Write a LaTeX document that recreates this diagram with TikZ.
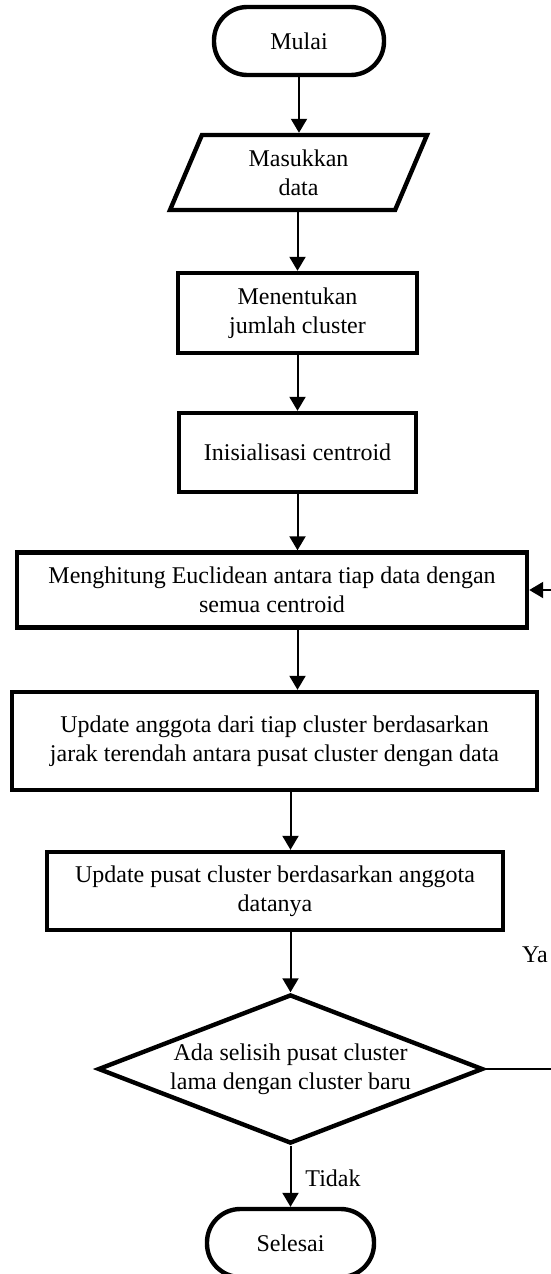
\documentclass[tikz,border=0pt]{standalone}
\usepackage{fontspec}
\setmainfont{Liberation Serif}
\usetikzlibrary{shapes.geometric,arrows.meta}

\tikzset{
  term/.style={draw,line width=3.3pt,rounded corners=25pt,minimum width=127.5pt,minimum height=51pt,inner sep=0pt},
  io/.style={draw,line width=3.3pt,trapezium,trapezium left angle=55,trapezium right angle=125,trapezium stretches body=true,minimum width=192.75pt,minimum height=56.25pt,inner sep=0pt,align=center},
  proc/.style={draw,line width=3.3pt,rectangle,inner sep=0pt,align=center},
  decide/.style={draw,line width=3.3pt,diamond,aspect=2.44,minimum width=288.75pt,inner sep=0pt,align=center},
  flow/.style={line width=1.5pt,-{Triangle[width=12pt,length=10.5pt]}},
}

\begin{document}
\begin{tikzpicture}[x=0.75pt,y=0.75pt,yscale=-1,xscale=1,font=\fontsize{18}{21.5}\selectfont]
\useasboundingbox (0,0) rectangle (550,1274);

%Rounded Rect
\draw (299,41) node[term] (mulai) {Mulai};
%Shape: Parallelogram
\draw (298.5,172.5) node[io] (input) {Masukkan\\data};
%Shape: Rectangle
\draw (297.5,313) node[proc,minimum width=179.25pt,minimum height=60pt] (jumlah) {Menentukan\\jumlah cluster};
%Shape: Rectangle
\draw (297.5,452.5) node[proc,minimum width=177.75pt,minimum height=59.25pt] (init) {Inisialisasi centroid};
%Shape: Rectangle
\draw (272,590) node[proc,minimum width=382.5pt,minimum height=56.25pt] (euclid) {Menghitung Euclidean antara tiap data dengan\\semua centroid};
%Shape: Rectangle
\draw (274.5,741) node[proc,minimum width=393.75pt,minimum height=73.5pt] (anggota) {Update anggota dari tiap cluster berdasarkan\\jarak terendah antara pusat cluster dengan data};
%Shape: Rectangle
\draw (275,891) node[proc,minimum width=342pt,minimum height=58.5pt] (pusat) {Update pusat cluster berdasarkan anggota\\datanya};
%Shape: Diamond
\draw (290.5,1069) node[decide] (cek) {Ada selisih pusat cluster\\lama dengan cluster baru};
%Rounded Rect
\draw (290.5,1243) node[term,minimum width=125.25pt] (selesai) {Selesai};

%Straight Lines
\draw[flow] (mulai.south) -- (mulai.south |- input.north);
\draw[flow] (input.south -| jumlah.north) -- (jumlah.north);
\draw[flow] (jumlah.south) -- (init.north);
\draw[flow] (init.south) -- (init.south |- euclid.north);
\draw[flow] (euclid.south -| init.south) -- (init.south |- anggota.north);
\draw[flow] (anggota.south -| cek.north) -- (cek.north |- pusat.north);
\draw[flow] (pusat.south -| cek.north) -- (cek.north);
\draw[flow] (cek.south) -- (selesai.north);
%Loop back
\coordinate (balik) at (570,1069);
\draw[line width=0.8pt] (cek.east) -- (balik);
\draw[flow] (balik) |- (euclid.east);

% Text Node
\draw (333,1178) node (tidak) {Tidak};
% Text Node
\draw (535,955) node (ya) {Ya};

\end{tikzpicture}
\end{document}
